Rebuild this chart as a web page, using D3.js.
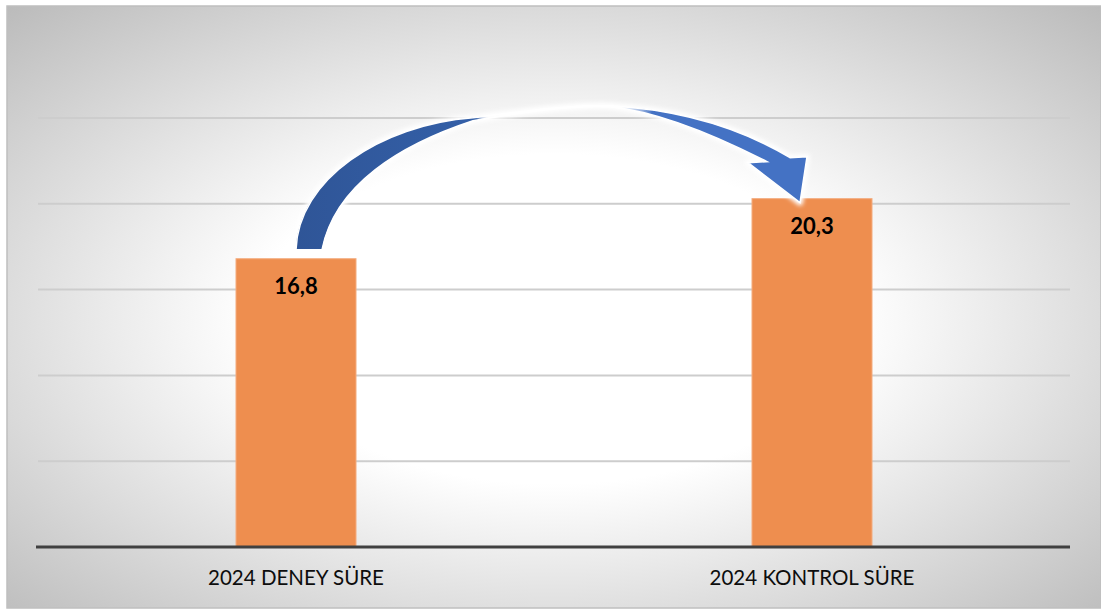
<!DOCTYPE html>
<html>
<head>
<meta charset="utf-8">
<script src="https://cdn.jsdelivr.net/npm/d3@7"></script>
<style>
  html, body { margin: 0; padding: 0; background: #fff; }
  #chart { width: 1101px; height: 610px; }
  text { font-family: Lato, "Open Sans", sans-serif; }
</style>
</head>
<body>
<div id="chart"></div>
<script>
// chart data
const categories = ["2024 DENEY SÜRE", "2024 KONTROL SÜRE"];
const values = [16.8, 20.3];
const labels = ["16,8", "20,3"];
const yTicks = [0, 5, 10, 15, 20, 25];

const W = 1101, H = 610;
const frame = { x: 7, y: 6, w: 1094, h: 602 };
const plot = { left: 38, right: 1070, top: 118, bottom: 547 };

const svg = d3.select("#chart").append("svg")
  .attr("width", W).attr("height", H);

const defs = svg.append("defs");

// background: white centre fading to grey corners
const bg = defs.append("radialGradient").attr("id", "bg")
  .attr("cx", "50%").attr("cy", "52%").attr("r", "72%");
bg.append("stop").attr("offset", "0").attr("stop-color", "#ffffff");
bg.append("stop").attr("offset", "0.38").attr("stop-color", "#ffffff");
bg.append("stop").attr("offset", "1").attr("stop-color", "#bbbbbb");

svg.append("rect")
  .attr("x", frame.x).attr("y", frame.y)
  .attr("width", frame.w).attr("height", frame.h)
  .attr("fill", "url(#bg)")
  .attr("stroke", "#bfbfbf").attr("stroke-width", 1.5);

// scales
const x = d3.scaleBand()
  .domain(categories)
  .range([plot.left, plot.right])
  .paddingInner(0.7674)
  .paddingOuter(0.3837);

const y = d3.scaleLinear()
  .domain([0, 25])
  .range([plot.bottom, plot.top]);

// gridlines
svg.append("g")
  .selectAll("line")
  .data(yTicks.filter(d => d > 0))
  .join("line")
  .attr("x1", plot.left).attr("x2", plot.right)
  .attr("y1", d => y(d)).attr("y2", d => y(d))
  .attr("stroke", "#cdcdcd").attr("stroke-width", 2);

// bars
svg.append("g")
  .selectAll("rect")
  .data(values)
  .join("rect")
  .attr("x", (d, i) => x(categories[i]))
  .attr("y", d => y(d))
  .attr("width", x.bandwidth())
  .attr("height", d => y(0) - y(d))
  .attr("fill", "#ee8e4f")
  .attr("stroke", "#f4ad80").attr("stroke-width", 1);

// bar value labels
svg.append("g")
  .selectAll("text")
  .data(values)
  .join("text")
  .attr("x", (d, i) => x(categories[i]) + x.bandwidth() / 2)
  .attr("y", d => y(d) + 35)
  .attr("text-anchor", "middle")
  .style("font-size", "22px")
  .style("font-weight", "bold")
  .attr("fill", "#000")
  .text((d, i) => labels[i]);

// x axis line
svg.append("line")
  .attr("x1", plot.left - 2).attr("x2", plot.right)
  .attr("y1", y(0)).attr("y2", y(0))
  .attr("stroke", "#404040").attr("stroke-width", 3);

// category labels
svg.append("g")
  .selectAll("text")
  .data(categories)
  .join("text")
  .attr("x", d => x(d) + x.bandwidth() / 2)
  .attr("y", plot.bottom + 38)
  .attr("text-anchor", "middle")
  .style("font-size", "20.5px")
  .attr("fill", "#0d0d0d")
  .text(d => d);

// curved arrow from first bar to second, anchored on the bars
const ax = x(categories[0]) + x.bandwidth() / 2; // 296
const ay = y(values[0]);                            // 259
const bx = x(categories[1]) + x.bandwidth() / 2;   // 812
const by = y(values[1]);                            // 199
const p = (px, py) => `${px},${py}`;
const arrowPath = [
  "M", p(ax, ay - 9),
  "C", p(ax + 2, ay - 79), p(ax + 84, ay - 134), p(ax + 177, ay - 141),
  "C", p(ax + 224, ay - 147), p(ax + 274, ay - 154), p(ax + 314, ay - 153),
  "C", p(bx - 132, by - 89), p(bx - 72, by - 71), p(bx - 22, by - 41),
  "L", p(bx - 5, by - 42),
  "L", p(bx - 12, by + 4),
  "L", p(bx - 64, by - 36),
  "L", p(bx - 45, by - 37),
  "C", p(bx - 92, by - 61), p(bx - 152, by - 87), p(ax + 314, ay - 152),
  "C", p(ax + 274, ay - 154), p(ax + 224, ay - 146), p(ax + 177, ay - 138),
  "C", p(ax + 104, ay - 114), p(ax + 39, ay - 74), p(ax + 26, ay - 9),
  "Z"
].join(" ");

const ag = defs.append("linearGradient").attr("id", "arrowFill")
  .attr("gradientUnits", "userSpaceOnUse")
  .attr("x1", ax).attr("x2", bx).attr("y1", 0).attr("y2", 0);
[[0, "#2f5597", 1], [0.35, "#3460a8", 1], [0.375, "#ffffff", 0],
 [0.61, "#ffffff", 0], [0.69, "#4472c4", 1], [1, "#4472c4", 1]]
  .forEach(s => ag.append("stop")
    .attr("offset", s[0]).attr("stop-color", s[1]).attr("stop-opacity", s[2]));

const glow = defs.append("filter").attr("id", "glow")
  .attr("x", "-10%").attr("y", "-10%").attr("width", "120%").attr("height", "120%");
glow.append("feGaussianBlur").attr("stdDeviation", 2);

svg.append("path")
  .attr("d", arrowPath)
  .attr("fill", "#ffffff")
  .attr("stroke", "#ffffff").attr("stroke-width", 6)
  .attr("stroke-linejoin", "round")
  .attr("filter", "url(#glow)");

svg.append("path")
  .attr("d", arrowPath)
  .attr("fill", "url(#arrowFill)")
  .attr("stroke", "#ffffff").attr("stroke-width", 1.5)
  .attr("stroke-linejoin", "miter");
</script>
</body>
</html>
